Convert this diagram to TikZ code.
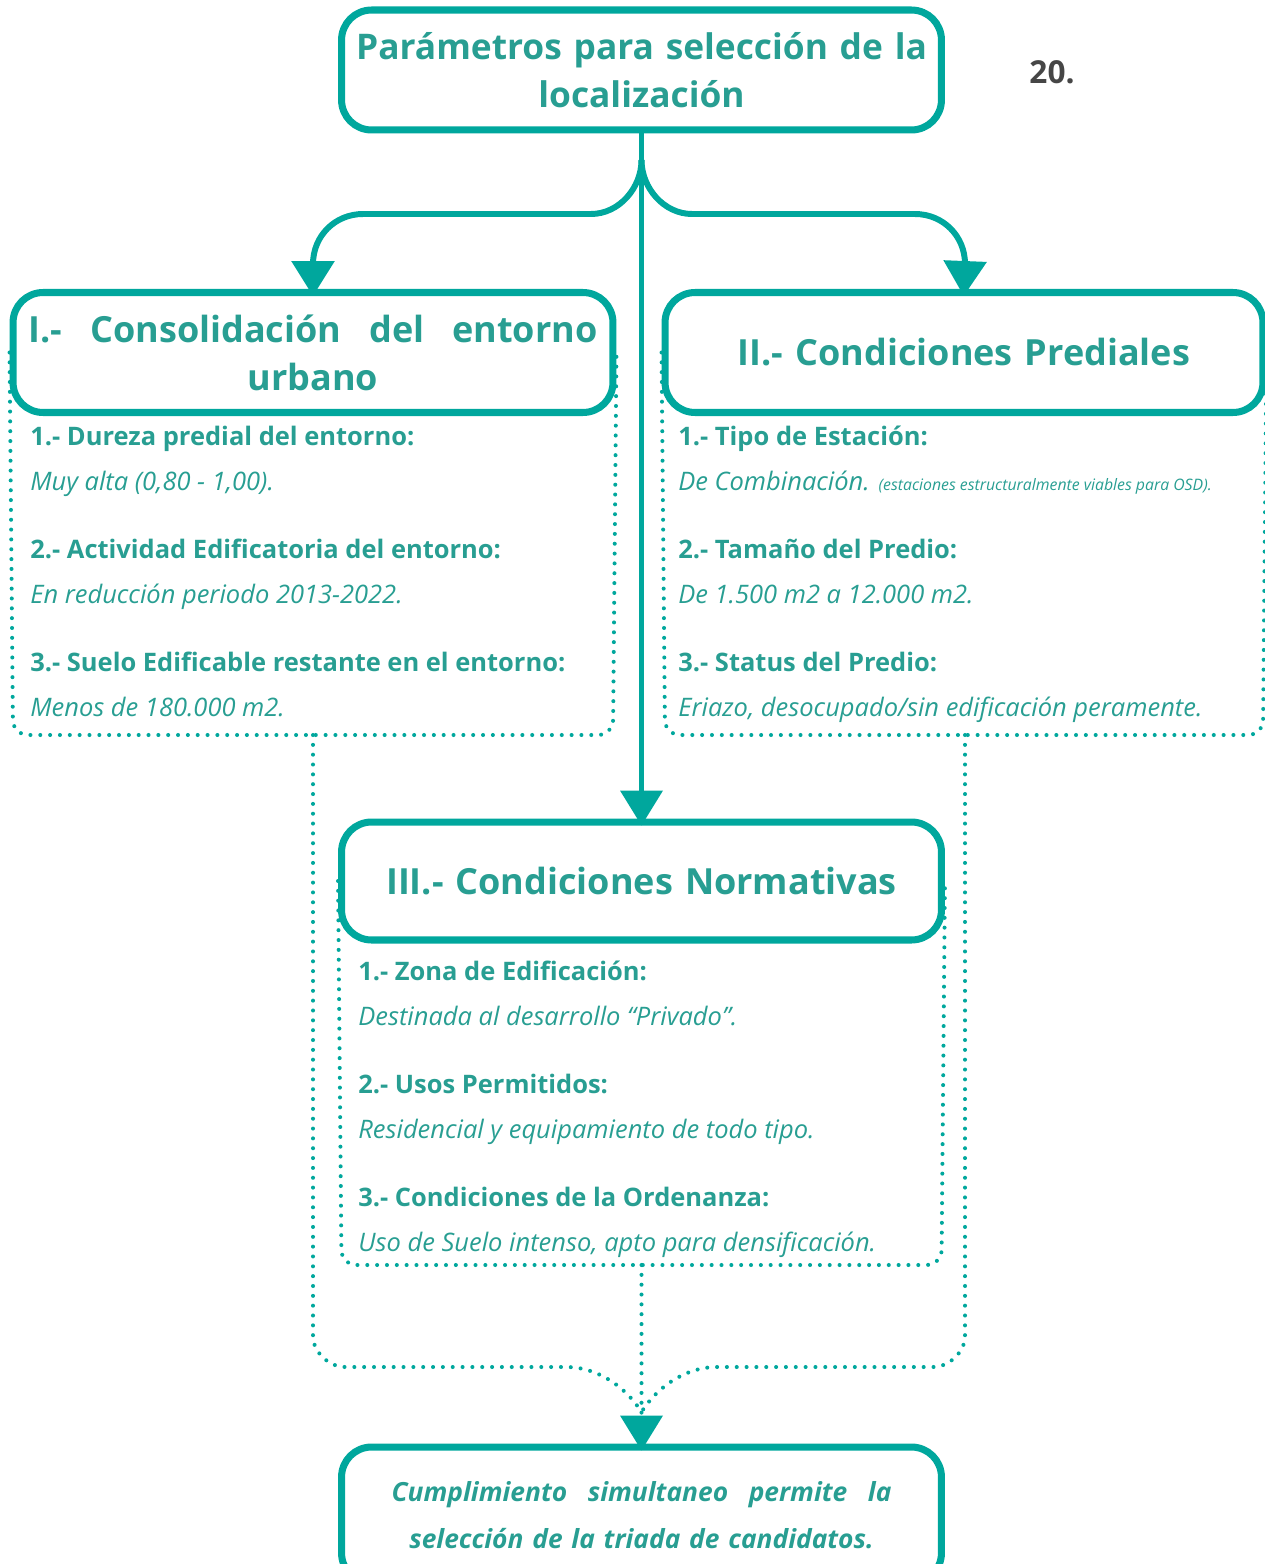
\documentclass[tikz,border=0pt]{standalone}
\usepackage{fontspec}
\setmainfont{Open Sans}
\usepackage{tikz}
\usetikzlibrary{arrows.meta}
\definecolor{lineteal}{RGB}{0, 167, 157}
\definecolor{textteal}{RGB}{40, 158, 146}
\definecolor{numgray}{RGB}{70, 70, 70}
\newcommand{\cond}[2]{{\bfseries #1}\\ {\itshape #2}}
\tikzset{
  box/.style={draw=lineteal, line width=4pt, rounded corners=0.6cm, minimum width=12cm,
    minimum height=2.4cm, text=textteal, align=center, text width=11.9cm, inner xsep=0pt,
    font=\bfseries\fontsize{20.5}{27.3}\selectfont},
  condlist/.style={anchor=north west, inner sep=0pt, align=left, text=textteal,
    font=\fontsize{14.5}{25.6}\selectfont},
  trunk/.style={draw=lineteal, line width=2.3pt},
  branch/.style={draw=lineteal, line width=3.4pt},
  dotline/.style={draw=lineteal, line width=2.3pt, line cap=round, dash pattern=on 0pt off 5.6pt},
  tip/.style={-{Triangle[width=0.84cm, length=0.7cm]}, shorten >=-4pt}
}

\begin{document}
\begin{tikzpicture}[x=0.02cm, y=-0.02cm]

  \useasboundingbox (0, 0) rectangle (1264, 1564);

  \node[box, font=\bfseries\fontsize{20.1}{27.3}\selectfont] (sel) at (641.5, 70) {Parámetros para selección de la\\localización};
  \node[font=\bfseries\fontsize{18}{22}\selectfont, text=numgray] (num) at (1052, 72) {20.};

  \node[box] (cI) at (313, 352.5) {\makebox[11.38cm][s]{I.-\hfill Consolidación\hfill del\hfill entorno}\\urbano};
  \node[box, minimum width=11.96cm] (cII) at (964, 352.5) {II.- Condiciones Prediales};
  \node[box, minimum height=2.36cm] (cIII) at (641.5, 881) {III.- Condiciones Normativas};
  \node[box, minimum height=2.72cm, font=\bfseries\itshape\fontsize{15}{26.7}\selectfont] (fin) at (641.5, 1515)
    {\makebox[10cm][s]{Cumplimiento\hfill simultaneo\hfill permite\hfill la}\\selección de la triada de candidatos.};

  % requisitos de cada grupo
  \node[condlist] (lI) at (30, 426) {
    \cond{1.- Dureza predial del entorno:}{Muy alta (0,80 - 1,00).}\\[13pt]
    \cond{2.- Actividad Edificatoria del entorno:}{En reducción periodo 2013-2022.}\\[13pt]
    \cond{3.- Suelo Edificable restante en el entorno:}{Menos de 180.000 m2.}};
  \node[condlist] (lII) at (678, 426) {
    \cond{1.- Tipo de Estación:}{De Combinación. {\fontsize{9}{10}\selectfont (estaciones estructuralmente viables para OSD).}}\\[13pt]
    \cond{2.- Tamaño del Predio:}{De 1.500 m2 a 12.000 m2.}\\[13pt]
    \cond{3.- Status del Predio:}{Eriazo, desocupado/sin edificación peramente.}};
  \node[condlist] (lIII) at (358, 961) {
    \cond{1.- Zona de Edificación:}{Destinada al desarrollo “Privado”.}\\[13pt]
    \cond{2.- Usos Permitidos:}{Residencial y equipamiento de todo tipo.}\\[13pt]
    \cond{3.- Condiciones de la Ordenanza:}{Uso de Suelo intenso, apto para densificación.}};

  \draw[dotline, rounded corners=0.3cm] (cI.west) -- (13, 735) -- (613, 735) -- (cI.east);
  \draw[dotline, rounded corners=0.3cm] (cII.west) -- (665, 735) -- (1263, 735) -- (cII.east);
  \draw[dotline, rounded corners=0.3cm] (cIII.west) -- (341.5, 1265) -- (941.5, 1265) -- (cIII.east);

  \coordinate (fork) at (641.5, 160);
  \coordinate (fI) at (313, 735);
  \coordinate (fII) at (965, 735);
  \coordinate (fIII) at (641.5, 1265);
  \coordinate (merge) at (641.5, 1412);

  \draw[trunk, tip] (sel.south) -- (cIII.north);
  \draw[branch, tip] (fork) .. controls (641.5, 188) and (619, 214) .. (591, 214) -- (363, 214)
    .. controls (335, 214) and (313, 236) .. (313, 264) -- (cI.north);
  \draw[branch, tip] (fork) .. controls (641.5, 188) and (664, 214) .. (692, 214) -- (915, 214)
    .. controls (943, 214) and (965, 236) .. (965, 264) -- (cII.north);

  \draw[dotline] (fI) -- (313, 1336) .. controls (313, 1352) and (329, 1367) .. (345, 1367) -- (566, 1367)
    .. controls (600, 1367) and (628, 1390) .. (merge);
  \draw[dotline] (fII) -- (965, 1336) .. controls (965, 1352) and (949, 1367) .. (933, 1367) -- (717, 1367)
    .. controls (683, 1367) and (655, 1390) .. (merge);
  \draw[dotline, tip] (fIII) -- (fin.north);

\end{tikzpicture}
\end{document}
